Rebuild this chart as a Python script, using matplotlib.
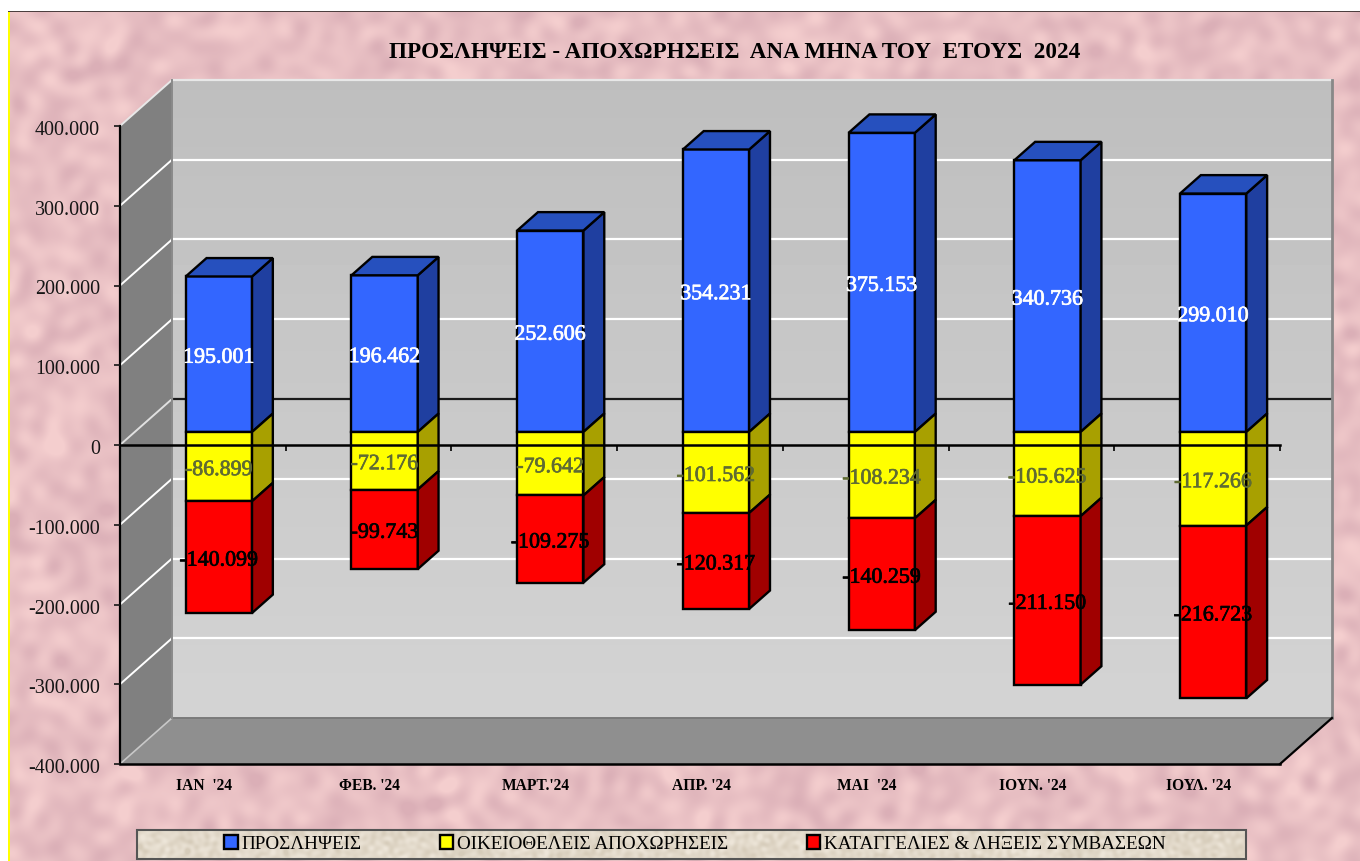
import numpy as np
import matplotlib
matplotlib.use("Agg")
import matplotlib.pyplot as plt
from matplotlib.patches import Rectangle
from matplotlib.ticker import FuncFormatter
from matplotlib.transforms import ScaledTranslation
import matplotlib.patheffects as pe

plt.rcParams['font.family'] = ['Liberation Serif', 'DejaVu Serif']

# Dati
months = ["ΙΑΝ  '24", "ΦΕΒ. '24", "ΜΑΡΤ.'24", "ΑΠΡ. '24", "ΜΑΙ  '24", "ΙΟΥΝ. '24", "ΙΟΥΛ. '24"]
hires = [195001, 196462, 252606, 354231, 375153, 340736, 299010]
resignations = [-86899, -72176, -79642, -101562, -108234, -105625, -117266]
terminations = [-140099, -99743, -109275, -120317, -140259, -211150, -216723]
series_names = ["ΠΡΟΣΛΗΨΕΙΣ", "ΟΙΚΕΙΟΘΕΛΕΙΣ ΑΠΟΧΩΡΗΣΕΙΣ", "ΚΑΤΑΓΓΕΛΙΕΣ & ΛΗΞΕΙΣ ΣΥΜΒΑΣΕΩΝ"]
title = "ΠΡΟΣΛΗΨΕΙΣ - ΑΠΟΧΩΡΗΣΕΙΣ  ΑΝΑ ΜΗΝΑ ΤΟΥ  ΕΤΟΥΣ  2024"
y_ticks = [-400000, -300000, -200000, -100000, 0, 100000, 200000, 300000, 400000]

W, H = 1360, 861
Y_MIN, Y_MAX = -400000, 400000

# Profondita' della scena 3D in unita' degli assi (52 px a destra, 46 px in alto)
DX = 52 / 1160 * len(months)
DY = 46 / 638 * (Y_MAX - Y_MIN)
BAR_W = 0.4
BAR_D0 = 0.283  # inizio della barra in profondita'
BAR_D1 = BAR_D0 + BAR_W  # fine della barra


def marble(freq, growth, n_waves):
    # Texture marmorizzata fatta con somma di onde
    yy, xx = np.mgrid[0:H, 0:W]
    tex = np.zeros((H, W))
    for k in range(n_waves):
        a = k * 2.399963
        f = freq * (1 + growth * k)
        tex += np.sin(f * (xx * np.cos(a) + yy * np.sin(a)) + k * k * 0.77)
    tex = (tex - tex.mean()) / (2.5 * tex.std())
    return np.clip(tex * 0.5 + 0.5, 0, 1)


def fmt_num(v, pos=None):
    return f"{int(v):,}".replace(",", ".")


def skew(x, v, d):
    return x + d * DX, v + d * DY


def side_face(ax, x_right, v_low, v_high, color):
    xs = [skew(x_right, v_low, BAR_D0), skew(x_right, v_low, BAR_D1),
          skew(x_right, v_high, BAR_D1), skew(x_right, v_high, BAR_D0)]
    ax.fill([p[0] for p in xs], [p[1] for p in xs], facecolor=color, edgecolor='black', lw=1.7, zorder=2, clip_on=False)


def top_face(ax, x_left, x_right, v, color):
    xs = [skew(x_left, v, BAR_D0), skew(x_left, v, BAR_D1),
          skew(x_right, v, BAR_D1), skew(x_right, v, BAR_D0)]
    ax.fill([p[0] for p in xs], [p[1] for p in xs], facecolor=color, edgecolor='black', lw=1.7, zorder=2, clip_on=False)


fig = plt.figure(figsize=(W / 100, H / 100), dpi=100)

# Sfondo rosa con cornice
bg = fig.add_axes([0, 0, 1, 1], zorder=0)
tex = marble(0.03, 0.06, 140)[..., None]
rgb = np.array([0.86, 0.69, 0.72]) * (1 - tex) + np.array([0.96, 0.81, 0.81]) * tex
rgb[:11, :] = 1
rgb[:, :8] = 1
rgb[11:, 8:10] = [1, 1, 0]
rgb[11:12, 8:] = [0.3, 0.25, 0.25]
bg.imshow(rgb, extent=(0, W, H, 0), aspect='auto', interpolation='bilinear')
bg.set_xlim(0, W)
bg.set_ylim(H, 0)
bg.axis('off')

# Riquadro della legenda
tex2 = marble(0.05, 0.35, 50)[..., None]
beige = np.array([0.84, 0.80, 0.73]) * (1 - tex2) + np.array([0.93, 0.90, 0.85]) * tex2
bg.imshow(beige[830:859, 137:1246], extent=(137, 1246, 859, 830), aspect='auto')
bg.add_patch(Rectangle((137, 830), 1109, 29, fill=False, edgecolor='#555555', lw=1.5))
bg.set_xlim(0, W)
bg.set_ylim(H, 0)

ax = fig.add_axes([120 / W, 1 - 764 / H, 1160 / W, 638 / H], zorder=1)
ax.patch.set_alpha(0)
n = len(months)

# Parete di fondo con sfumatura
wall = np.linspace(0.745, 0.83, 200)[:, None]
ax.imshow(wall, extent=(DX, n + DX, Y_MIN + DY, Y_MAX + DY), origin='upper', cmap='gray', vmin=0, vmax=1,
          aspect='auto', zorder=0.1, clip_on=False)

# Parete sinistra e pavimento
ax.fill([0, DX, DX, 0], [Y_MIN, Y_MIN + DY, Y_MAX + DY, Y_MAX], color='#808080', lw=0, zorder=0.2, clip_on=False)
ax.fill([0, DX, n + DX, n], [Y_MIN, Y_MIN + DY, Y_MIN + DY, Y_MIN], color='#8f8f8f', lw=0, zorder=0.2, clip_on=False)

# Griglia su parete sinistra e di fondo
for v in y_ticks[1:]:
    c = '#e8e8e8' if v == Y_MAX else 'white'
    ax.plot([DX, n + DX], [v + DY, v + DY], color='#1a1a1a' if v == 0 else c, lw=1.6, zorder=0.5, clip_on=False)
    ax.plot([0, DX], [v, v + DY], color='#e0e0e0' if v == 0 else c, lw=1.4, zorder=0.5, clip_on=False)
ax.plot([0, DX], [Y_MIN, Y_MIN + DY], color='#c8c8c8', lw=1.2, zorder=0.5, clip_on=False)
ax.plot([DX, n + DX], [Y_MIN + DY, Y_MIN + DY], color='#7a7a7a', lw=1.4, zorder=0.5, clip_on=False)
ax.plot([DX, DX], [Y_MIN + DY, Y_MAX + DY], color='#8a8a8a', lw=1.4, zorder=0.5, clip_on=False)
ax.plot([n + DX, n + DX], [Y_MIN + DY, Y_MAX + DY], color='#888888', lw=2, zorder=0.5, clip_on=False)
ax.plot([0, n], [Y_MIN, Y_MIN], color='black', lw=1.8, zorder=0.6, clip_on=False)
ax.plot([n, n + DX], [Y_MIN, Y_MIN + DY], color='black', lw=1.6, zorder=0.6, clip_on=False)

centers = np.arange(n) + 0.5 + 0.008
# Centro delle barre spostato sul piano frontale della barra
bar_x = centers + BAR_D0 * DX
base = BAR_D0 * DY

colors = ['#3366FF', '#FFFF00', '#FF0000']
side_colors = ['#1F3FA0', '#A8A000', '#A00000']
top_color = '#2650BE'
label_colors = ['white', '#5F6B33', 'black']

bottoms = [[base] * n,
           [base + r for r in resignations],
           [base + r + t for r, t in zip(resignations, terminations)]]
heights = [hires, [-r for r in resignations], [-t for t in terminations]]
labels = [hires, resignations, terminations]

handles = []
for s in range(3):
    bars = ax.bar(bar_x, heights[s], BAR_W, bottom=bottoms[s], color=colors[s], edgecolor='black', lw=1.7,
                  zorder=2, clip_on=False, label=series_names[s])
    handles.append(bars)
    for i in range(n):
        x_r = centers[i] + BAR_W / 2
        side_face(ax, x_r, bottoms[s][i] - base, bottoms[s][i] - base + heights[s][i], side_colors[s])
        if s == 0:
            top_face(ax, centers[i] - BAR_W / 2, x_r, hires[i], top_color)
        ax.text(bar_x[i], bottoms[s][i] + heights[s][i] / 2 - 5000, fmt_num(labels[s][i]), ha='center', va='center',
                fontsize=15.8, color=label_colors[s], zorder=4,
                path_effects=[pe.withStroke(linewidth=0.5, foreground=label_colors[s])])

# Assi
ax.set_xlim(0, n)
ax.set_ylim(Y_MIN, Y_MAX)
ax.set_axisbelow(False)
for sp in ['top', 'right']:
    ax.spines[sp].set_visible(False)
ax.spines['bottom'].set_position(('data', 0))
ax.spines['bottom'].set_linewidth(1.8)
ax.spines['left'].set_linewidth(1.6)

ax.set_yticks(y_ticks)
ax.yaxis.set_major_formatter(FuncFormatter(fmt_num))
ax.tick_params(axis='y', length=4.5, width=1.2, pad=10, labelsize=14.4, colors='#151515')
# Le etichette y stanno 2 px sotto la tacca
for lab in ax.get_yticklabels():
    lab.set_transform(lab.get_transform() + ScaledTranslation(0, -2 / 100, fig.dpi_scale_trans))

ax.set_xticks(np.arange(n + 1))
ax.set_xticklabels([])
ax.tick_params(axis='x', which='major', length=4, width=1.2, direction='out')
ax.set_xticks(centers, months, minor=True)
ax.tick_params(axis='x', which='minor', length=0, pad=240, labelsize=11.2)
for lab in ax.get_xticklabels(minor=True):
    lab.set_fontweight('bold')

fig.text(735 / W, 1 - 52 / H, title, ha='center', va='center', fontsize=16.7, fontweight='bold', color='black')

leg = fig.legend(handles=handles, labels=series_names, loc='center', bbox_to_anchor=(695 / W, 1 - 844 / H), ncol=3,
                 frameon=False, fontsize=13.8, handlelength=0.7, handleheight=0.7, handletextpad=0.2,
                 columnspacing=4.1, borderpad=0)

fig.savefig("out.png", dpi=100)
